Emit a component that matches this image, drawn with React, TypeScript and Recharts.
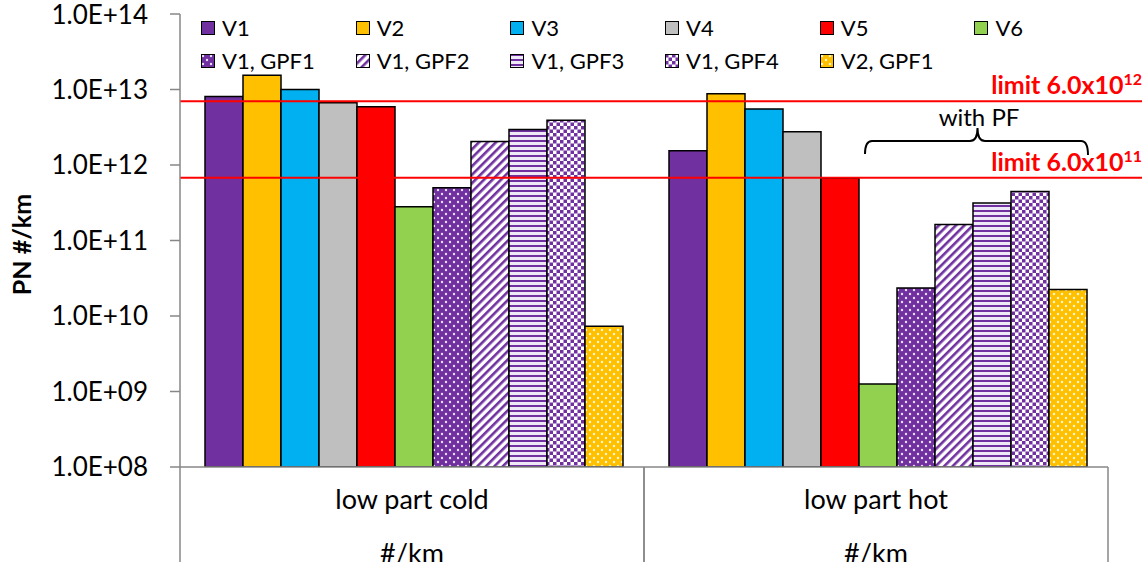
import React from 'react';
import { BarChart, Bar, XAxis, YAxis, ReferenceLine, Legend } from 'recharts';

const CATEGORIES = ['low part cold', 'low part hot'];
const UNIT_LABEL = '#/km';
const SERIES = ['V1', 'V2', 'V3', 'V4', 'V5', 'V6', 'V1, GPF1', 'V1, GPF2', 'V1, GPF3', 'V1, GPF4', 'V2, GPF1'];
const COLD = [8.1e12, 1.55e13, 1.0e13, 6.7e12, 5.9e12, 2.8e11, 5.0e11, 2.05e12, 2.95e12, 3.9e12, 7.3e9];
const HOT = [1.55e12, 8.8e12, 5.5e12, 2.75e12, 6.7e11, 1.26e9, 2.35e10, 1.63e11, 3.15e11, 4.45e11, 2.25e10];
const LIMITS = [7.0e12, 6.8e11];
const LIMIT_LABELS = ['limit 6.0x10', 'limit 6.0x10'];
const LIMIT_EXP = ['12', '11'];
const Y_TICKS = [1e8, 1e9, 1e10, 1e11, 1e12, 1e13, 1e14];

const PURPLE = '#7030A0';
const ORANGE = '#FFC000';
const FILLS = [
  PURPLE, ORANGE, '#00B0F0', '#BFBFBF', '#FF0000', '#92D050',
  'url(#pDotsPurple)', 'url(#pDiag)', 'url(#pHoriz)', 'url(#pCheck)', 'url(#pDotsOrange)',
];
const AXIS = '#878787';
const FONT = 'Lato, "Open Sans", sans-serif';

const data = CATEGORIES.map((cat, c) => {
  const row: Record<string, string | number> = { cat };
  SERIES.forEach((_, i) => {
    row[`s${i}`] = c === 0 ? COLD[i] : HOT[i];
  });
  return row;
});

const fmtTick = (v: number) => `1.0E+${String(Math.round(Math.log10(v))).padStart(2, '0')}`;

function Patterns() {
  return (
    <svg width={0} height={0} style={{ position: 'absolute' }}>
      <defs>
        <pattern id="pDotsPurple" width={8} height={8} patternUnits="userSpaceOnUse">
          <rect width={8} height={8} fill={PURPLE} />
          <circle cx={2} cy={2} r={1.2} fill="#eadff5" />
          <circle cx={6} cy={6} r={1.2} fill="#eadff5" />
        </pattern>
        <pattern id="pDotsOrange" width={8} height={8} patternUnits="userSpaceOnUse">
          <rect width={8} height={8} fill={ORANGE} />
          <circle cx={2} cy={2} r={1.2} fill="#fff6d8" />
          <circle cx={6} cy={6} r={1.2} fill="#fff6d8" />
        </pattern>
        <pattern id="pDiag" width={6} height={6} patternUnits="userSpaceOnUse" patternTransform="rotate(45)">
          <rect width={6} height={6} fill="#ffffff" />
          <rect width={2.6} height={6} fill={PURPLE} />
        </pattern>
        <pattern id="pHoriz" width={5} height={5} patternUnits="userSpaceOnUse">
          <rect width={5} height={5} fill="#efe8f6" />
          <rect width={5} height={2} fill={PURPLE} />
        </pattern>
        <pattern id="pCheck" width={7} height={7} patternUnits="userSpaceOnUse">
          <rect width={7} height={7} fill="#ffffff" />
          <rect width={3.5} height={3.5} fill={PURPLE} />
          <rect x={3.5} y={3.5} width={3.5} height={3.5} fill={PURPLE} />
        </pattern>
      </defs>
    </svg>
  );
}

function LegendContent() {
  return (
    <div style={{ display: 'grid', gridTemplateColumns: 'repeat(6, 154.7px)', fontFamily: FONT, fontSize: 22 }}>
      {SERIES.map((s, i) => (
        <div key={s} style={{ display: 'flex', alignItems: 'center', height: 33 }}>
          <svg width={14} height={14} style={{ marginRight: 7 }}>
            <rect x={0.5} y={0.5} width={13} height={13} fill={FILLS[i]} stroke="#000" strokeWidth={1} />
          </svg>
          <span>{s}</span>
        </div>
      ))}
    </div>
  );
}

function CategoryTick(props: any) {
  const { x, y, payload } = props;
  const half = payload && payload.offset ? payload.offset : 232;
  return (
    <g>
      <line x1={x - half} y1={y} x2={x - half} y2={y + 95} stroke={AXIS} strokeWidth={1.5} />
      <line x1={x + half} y1={y} x2={x + half} y2={y + 95} stroke={AXIS} strokeWidth={1.5} />
      <text x={x} y={y + 31} textAnchor="middle" dominantBaseline="central" fontSize={27} fontFamily={FONT} fill="#000">
        {payload.value}
      </text>
      <text x={x} y={y + 85} textAnchor="middle" dominantBaseline="central" fontSize={27} fontFamily={FONT} fill="#000">
        {UNIT_LABEL}
      </text>
    </g>
  );
}

const limitShape = (k: number) => (props: any) => {
  const { x1, y1, x2 } = props;
  const end = x2 + 34;
  return (
    <g>
      <line x1={x1} y1={y1} x2={end} y2={y1} stroke="#FF0000" strokeWidth={2} />
      <text x={end} y={y1 - 7} textAnchor="end" fontFamily={FONT} fontWeight="bold" fontSize={25} fill="#FF0000">
        <tspan>{LIMIT_LABELS[k]}</tspan>
        <tspan dy={-9} fontSize={16}>{LIMIT_EXP[k]}</tspan>
      </text>
    </g>
  );
};

export default function App() {
  return (
    <div style={{ position: 'absolute', left: 0, top: 0, width: 1142, height: 562, background: '#fff' }}>
      <Patterns />
      <BarChart
        width={1142}
        height={562}
        data={data}
        margin={{ top: 14, right: 34, bottom: 0, left: 0 }}
        barCategoryGap={25}
        barGap={0}
      >
        <XAxis
          dataKey="cat"
          height={95}
          interval={0}
          tickLine={false}
          tickSize={0}
          tickMargin={0}
          axisLine={{ stroke: AXIS, strokeWidth: 1.5 }}
          tick={<CategoryTick />}
        />
        <XAxis xAxisId="top" dataKey="cat" orientation="top" height={0} tick={false} tickLine={false} axisLine={{ stroke: AXIS, strokeWidth: 1.5 }} />
        <YAxis
          scale="log"
          domain={[1e8, 1e14]}
          ticks={Y_TICKS}
          allowDataOverflow
          width={180}
          tickFormatter={fmtTick}
          tickSize={10}
          tickMargin={22}
          tick={{ fontSize: 26, fontFamily: FONT, fill: '#000' }}
          tickLine={{ stroke: AXIS, strokeWidth: 1.5 }}
          axisLine={{ stroke: AXIS, strokeWidth: 1.5 }}
          label={{
            content: (p: any) => {
              const vb = p.viewBox || { x: 0, y: 14, height: 453 };
              return (
                <text
                  transform={`translate(31,${vb.y + vb.height / 2 + 4}) rotate(-90)`}
                  textAnchor="middle"
                  fontFamily={FONT}
                  fontWeight="bold"
                  fontSize={25}
                  fill="#000"
                >
                  PN #/km
                </text>
              );
            },
          }}
        />
        <YAxis yAxisId="right" orientation="right" width={0} tick={false} tickLine={false} axisLine={{ stroke: AXIS, strokeWidth: 1.5 }} />
        <Legend
          layout="horizontal"
          verticalAlign="middle"
          align="center"
          content={<LegendContent />}
          wrapperStyle={{ left: 201, top: 11, width: 930, height: 66 }}
        />
        {SERIES.map((s, i) => (
          <Bar
            key={s}
            dataKey={`s${i}`}
            name={s}
            fill={FILLS[i]}
            stroke="#000"
            strokeWidth={1.5}
            isAnimationActive={false}
          />
        ))}
        {LIMITS.map((v, k) => (
          <ReferenceLine key={k} y={v} shape={limitShape(k)} />
        ))}
      </BarChart>
      <svg width={1142} height={562} style={{ position: 'absolute', left: 0, top: 0, pointerEvents: 'none' }}>
        <text x={979} y={126} textAnchor="middle" fontFamily={FONT} fontSize={24} fill="#000">with PF</text>
        <path
          d="M865,154 Q865,141 872,141 L970,141 Q977.5,141 977.5,128 Q977.5,141 985,141 L1081,141 Q1088,141 1088,155"
          fill="none"
          stroke="#000"
          strokeWidth={2}
        />
      </svg>
    </div>
  );
}
